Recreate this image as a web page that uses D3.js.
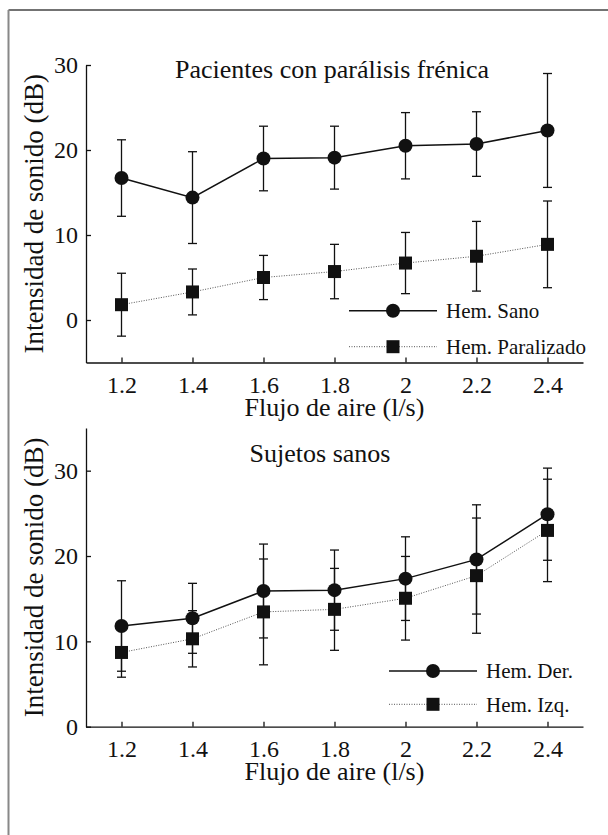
<!DOCTYPE html>
<html>
<head>
<meta charset="utf-8">
<script src="https://cdn.jsdelivr.net/npm/d3@7/dist/d3.min.js"></script>
<style>
  html, body { margin: 0; padding: 0; background: #fff; }
  svg { display: block; }
</style>
</head>
<body>
<svg id="fig" width="608" height="835"></svg>
<script>
// Airflow levels (l/s) shared by both panels
const flujo = [1.2, 1.4, 1.6, 1.8, 2.0, 2.2, 2.4];

// Panel 1: patients with phrenic paralysis (mean ± SD, dB)
const sanoMedia = [16.7, 14.4, 19.0, 19.1, 20.5, 20.7, 22.3];
const sanoDE    = [4.5, 5.4, 3.8, 3.7, 3.9, 3.8, 6.7];
const paralMedia = [1.8, 3.3, 5.0, 5.7, 6.7, 7.5, 8.9];
const paralDE    = [3.7, 2.7, 2.6, 3.2, 3.6, 4.1, 5.1];

// Panel 2: healthy subjects (mean ± SD, dB)
const derMedia = [11.8, 12.7, 15.9, 16.0, 17.35, 19.6, 24.9];
const derDE    = [5.3, 4.1, 5.5, 4.7, 4.9, 6.4, 5.4];
const izqMedia = [8.7, 10.3, 13.45, 13.75, 15.05, 17.7, 23.0];
const izqDE    = [2.9, 3.3, 6.2, 4.8, 4.9, 6.75, 6.0];

// Tick values
const xTicks = [1.2, 1.4, 1.6, 1.8, 2.0, 2.2, 2.4];
const yTicksTop = [0, 10, 20, 30];
const yTicksBottom = [0, 10, 20, 30];

// pick the first installed Times-like serif face
function pickFont(cands) {
  const ctx = document.createElement("canvas").getContext("2d");
  const probe = "Intensidad de sonido 1.2 Wmi";
  const base = {};
  ["monospace", "sans-serif"].forEach(b => { ctx.font = `40px ${b}`; base[b] = ctx.measureText(probe).width; });
  for (const c of cands) {
    let differs = true;
    for (const b of ["monospace", "sans-serif"]) {
      ctx.font = `40px "${c}", ${b}`;
      if (Math.abs(ctx.measureText(probe).width - base[b]) < 0.01) differs = false;
    }
    if (differs) return `"${c}", serif`;
  }
  return "serif";
}
const FONT = pickFont(["Liberation Serif", "Times New Roman", "Tinos", "Nimbus Roman", "DejaVu Serif", "Noto Serif"]);

const svg = d3.select("#fig");

// outer frame (top and left edges)
svg.append("line").attr("x1", 8.5).attr("y1", 10).attr("x2", 608).attr("y2", 10)
  .attr("stroke", "#444").attr("stroke-width", 1.5);
svg.append("line").attr("x1", 8.5).attr("y1", 10).attr("x2", 8.5).attr("y2", 835)
  .attr("stroke", "#888").attr("stroke-width", 2);

const xLeft = 86, xRight = 583;
const x = d3.scaleLinear().domain([1.1, 2.5]).range([xLeft, xRight]);

function label(sel, size) {
  return sel.attr("font-family", FONT).attr("font-size", size).attr("fill", "#111");
}

function panel(cfg) {
  const y = d3.scaleLinear().domain(cfg.yDomain).range([cfg.yBottom, cfg.yTop]);
  const g = svg.append("g");

  // axes with inward ticks
  const xa = g.append("g").attr("transform", `translate(0,${cfg.yBottom})`)
    .call(d3.axisBottom(x).tickValues(xTicks).tickSizeInner(-5).tickSizeOuter(0)
      .tickPadding(13).tickFormat(d => String(+d.toFixed(1))));
  const ya = g.append("g").attr("transform", `translate(${xLeft},0)`)
    .call(d3.axisLeft(y).tickValues(cfg.yTicks).tickSizeInner(-5).tickSizeOuter(0)
      .tickPadding(8).tickFormat(d3.format("d")));
  [xa, ya].forEach(a => {
    a.attr("font-family", FONT).attr("font-size", 24);
    a.selectAll("path, line").attr("stroke", "#111").attr("stroke-width", 1.3);
    label(a.selectAll("text"), 24);
  });

  // axis titles
  label(g.append("text"), 26).attr("x", (xLeft + xRight) / 2).attr("y", cfg.yBottom + 53)
    .attr("text-anchor", "middle").text("Flujo de aire (l/s)");
  label(g.append("text"), 27)
    .attr("transform", `translate(43,${(cfg.yBottom + cfg.yTop) / 2}) rotate(-90)`)
    .attr("text-anchor", "middle").text("Intensidad de sonido (dB)");

  // panel title
  label(g.append("text"), 26).attr("x", cfg.titleX).attr("y", cfg.titleY)
    .attr("text-anchor", "middle").text(cfg.title);

  const cap = 4.5;
  const drawSeries = (s) => {
    const pts = flujo.map((f, i) => ({ f, m: s.media[i], e: s.de[i] }));
    // connecting line
    g.append("path").datum(pts)
      .attr("d", d3.line().x(d => x(d.f)).y(d => y(d.m)))
      .attr("fill", "none").attr("stroke", s.dotted ? "#555" : "#111")
      .attr("stroke-width", s.dotted ? 1 : 1.5)
      .attr("stroke-dasharray", s.dotted ? "1,1.5" : null);
    // error bars
    const eb = g.append("g").attr("stroke", "#111").attr("stroke-width", 1.3);
    eb.selectAll("line.v").data(pts).join("line").attr("class", "v")
      .attr("x1", d => x(d.f)).attr("x2", d => x(d.f))
      .attr("y1", d => y(d.m - d.e)).attr("y2", d => y(d.m + d.e));
    eb.selectAll("line.t").data(pts).join("line").attr("class", "t")
      .attr("x1", d => x(d.f) - cap).attr("x2", d => x(d.f) + cap)
      .attr("y1", d => y(d.m + d.e)).attr("y2", d => y(d.m + d.e));
    eb.selectAll("line.b").data(pts).join("line").attr("class", "b")
      .attr("x1", d => x(d.f) - cap).attr("x2", d => x(d.f) + cap)
      .attr("y1", d => y(d.m - d.e)).attr("y2", d => y(d.m - d.e));
    return pts;
  };
  const drawMarkers = (pts, shape) => {
    if (shape === "circle") {
      g.selectAll(null).data(pts).join("circle")
        .attr("cx", d => x(d.f)).attr("cy", d => y(d.m)).attr("r", 7).attr("fill", "#111");
    } else {
      g.selectAll(null).data(pts).join("rect")
        .attr("x", d => x(d.f) - 6.5).attr("y", d => y(d.m) - 6.5)
        .attr("width", 13).attr("height", 13).attr("fill", "#111");
    }
  };
  const p2 = drawSeries(cfg.s2);
  const p1 = drawSeries(cfg.s1);
  drawMarkers(p2, "square");
  drawMarkers(p1, "circle");

  // legend
  const lg = g.append("g");
  [cfg.s1, cfg.s2].forEach((s, i) => {
    const ly = cfg.legY[i];
    lg.append("line").attr("x1", cfg.legX).attr("x2", cfg.legX + 88)
      .attr("y1", ly).attr("y2", ly)
      .attr("stroke", s.dotted ? "#555" : "#111").attr("stroke-width", s.dotted ? 1 : 1.5)
      .attr("stroke-dasharray", s.dotted ? "1,1.5" : null);
    if (i === 0) {
      lg.append("circle").attr("cx", cfg.legX + 44).attr("cy", ly).attr("r", 7).attr("fill", "#111");
    } else {
      lg.append("rect").attr("x", cfg.legX + 44 - 6.5).attr("y", ly - 6.5)
        .attr("width", 13).attr("height", 13).attr("fill", "#111");
    }
    label(lg.append("text"), 21).attr("x", cfg.legX + 97).attr("y", ly).attr("dy", "0.35em")
      .text(s.name);
  });
}

panel({
  yDomain: [-5, 30], yBottom: 362.5, yTop: 65, yTicks: yTicksTop,
  title: "Pacientes con parálisis frénica", titleX: 332, titleY: 78,
  s1: { name: "Hem. Sano", media: sanoMedia, de: sanoDE, dotted: false },
  s2: { name: "Hem. Paralizado", media: paralMedia, de: paralDE, dotted: true },
  legX: 349, legY: [310.7, 346.7]
});

panel({
  yDomain: [0, 35], yBottom: 726.7, yTop: 428, yTicks: yTicksBottom,
  title: "Sujetos sanos", titleX: 320, titleY: 462,
  s1: { name: "Hem. Der.", media: derMedia, de: derDE, dotted: false },
  s2: { name: "Hem. Izq.", media: izqMedia, de: izqDE, dotted: true },
  legX: 389, legY: [671, 704.3]
});
</script>
</body>
</html>
